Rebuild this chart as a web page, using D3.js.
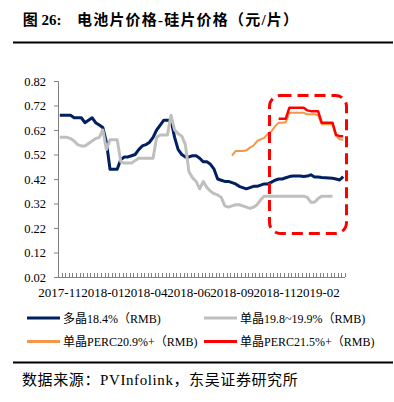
<!DOCTYPE html>
<html>
<head>
<meta charset="utf-8">
<script src="https://cdn.jsdelivr.net/npm/d3@7"></script>
<style>
  html, body { margin: 0; padding: 0; background: #fff; }
  svg { display: block; }
  text { font-family: "Liberation Serif", "Noto Sans CJK SC", serif; }
</style>
</head>
<body>
<svg id="chart" width="394" height="402"></svg>
<script>
// ---------- data ----------
const xTickLabels = ["2017-11", "2018-01", "2018-04", "2018-06", "2018-09", "2018-11", "2019-02"];
const labelEvery = 12;
const nPoints = 80;
const yTicks = [0.02, 0.12, 0.22, 0.32, 0.42, 0.52, 0.62, 0.72, 0.82];

const multi184 = [0.68,0.68,0.68,0.68,0.67,0.67,0.67,0.65,0.66,0.67,
  0.65,0.64,0.63,0.57,0.46,0.46,0.46,0.50,0.51,0.51,
  0.515,0.52,0.54,0.555,0.56,0.57,0.59,0.62,0.64,0.66,
  0.66,0.66,0.59,0.54,0.52,0.51,0.51,0.515,0.515,0.505,
  0.49,0.49,0.48,0.46,0.42,0.415,0.41,0.41,0.405,0.40,
  0.39,0.385,0.38,0.385,0.39,0.39,0.395,0.40,0.40,0.407,
  0.415,0.42,0.42,0.425,0.43,0.432,0.432,0.432,0.43,0.432,
  0.437,0.428,0.428,0.426,0.425,0.424,0.423,0.42,0.416,0.43];

const mono198 = [0.59,0.59,0.59,0.585,0.575,0.56,0.555,0.555,0.565,0.575,
  0.585,0.59,0.62,0.54,0.58,0.58,0.58,0.49,0.485,0.485,
  0.485,0.495,0.505,0.505,0.505,0.505,0.505,0.59,0.60,0.60,
  0.60,0.68,0.62,0.605,0.595,0.56,0.45,0.425,0.41,0.38,
  0.41,0.385,0.37,0.36,0.355,0.345,0.31,0.305,0.31,0.315,
  0.315,0.31,0.305,0.30,0.305,0.315,0.335,0.35,0.35,0.35,
  0.35,0.35,0.35,0.35,0.35,0.35,0.35,0.35,0.35,0.345,
  0.325,0.325,0.34,0.35,0.35,0.35,0.35,null,null,null];

const perc209 = [null,null,null,null,null,null,null,null,null,null,
  null,null,null,null,null,null,null,null,null,null,
  null,null,null,null,null,null,null,null,null,null,
  null,null,null,null,null,null,null,null,null,null,
  null,null,null,null,null,null,null,null,0.515,0.534,
  0.534,0.534,0.537,0.548,0.556,0.575,0.582,0.588,0.605,0.615,
  0.635,0.65,0.65,0.652,0.69,0.69,0.69,0.69,0.69,0.684,
  0.684,0.684,0.68,0.643,0.643,0.643,0.643,0.595,0.582,0.58];

const perc215 = [null,null,null,null,null,null,null,null,null,null,
  null,null,null,null,null,null,null,null,null,null,
  null,null,null,null,null,null,null,null,null,null,
  null,null,null,null,null,null,null,null,null,null,
  null,null,null,null,null,null,null,null,null,null,
  null,null,null,null,null,null,null,null,null,null,
  null,0.666,0.666,0.666,0.711,0.711,0.711,0.711,0.711,0.70,
  0.697,0.697,0.697,0.65,0.65,0.65,0.65,0.60,0.595,0.595];

const seriesNames = ["多晶18.4%（RMB)", "单晶19.8~19.9%（RMB)", "单晶PERC20.9%+（RMB)", "单晶PERC21.5%+（RMB)"];
const seriesColors = ["#002060", "#BFBFBF", "#F79646", "#FF0000"];
const seriesWidths = [3, 3, 2, 2.5];
const seriesData = [multi184, mono198, perc209, perc215];

// ---------- layout ----------
const svg = d3.select("#chart");
const plot = { left: 58, right: 345, top: 81, bottom: 277 };
const categories = d3.range(nPoints);

const x = d3.scaleBand().domain(categories).range([plot.left, plot.right]).paddingInner(0).paddingOuter(0);
const xc = i => x(i) + x.bandwidth() / 2;
const y = d3.scaleLinear().domain([0.02, 0.82]).range([plot.bottom, plot.top]);

// title
svg.append("text").attr("x", 22.7).attr("y", 25).attr("font-size", 15).attr("font-weight", "bold")
  .attr("fill", "#000").text("图 26:");
svg.append("text").attr("x", 77).attr("y", 25).attr("font-size", 15).attr("font-weight", "bold")
  .attr("letter-spacing", 1.2).attr("fill", "#000").text("电池片价格-硅片价格（元/片）");
svg.append("line").attr("x1", 13).attr("x2", 393).attr("y1", 42.5).attr("y2", 42.5)
  .attr("stroke", "#000").attr("stroke-width", 2);

// y axis
const yAxis = d3.axisLeft(y).tickValues(yTicks).tickFormat(d3.format(".2f")).tickSize(4).tickPadding(8);
const gy = svg.append("g").attr("transform", `translate(${plot.left},0)`).call(yAxis);
gy.select(".domain").attr("stroke", "#808080").attr("stroke-width", 1);
gy.selectAll(".tick line").attr("stroke", "#808080");
gy.selectAll(".tick text").attr("font-size", 12.5).attr("fill", "#000")
  .attr("font-family", "Liberation Serif, serif");

// x axis: ticks at category boundaries, pointing up
const boundaries = d3.range(nPoints + 1).map(i => plot.left + i * x.step());
const gx = svg.append("g");
gx.append("line").attr("x1", plot.left).attr("x2", plot.right).attr("y1", plot.bottom + 0.5).attr("y2", plot.bottom + 0.5)
  .attr("stroke", "#808080");
gx.selectAll("line.tk").data(boundaries).join("line").attr("class", "tk")
  .attr("x1", d => Math.round(d) + 0.5).attr("x2", d => Math.round(d) + 0.5)
  .attr("y1", plot.bottom).attr("y2", plot.bottom - 4).attr("stroke", "#808080");
gx.selectAll("text").data(xTickLabels).join("text")
  .attr("x", (d, i) => xc(i * labelEvery)).attr("y", 297).attr("text-anchor", "middle")
  .attr("font-size", 13).attr("fill", "#000").text(d => d);

// lines
const line = d3.line().defined(d => d != null).x((d, i) => xc(i)).y(d => y(d));
seriesData.forEach((arr, k) => {
  svg.append("path").datum(arr).attr("d", line).attr("fill", "none")
    .attr("stroke", seriesColors[k]).attr("stroke-width", seriesWidths[k])
    .attr("stroke-linejoin", "round");
});

// dashed highlight box
svg.append("rect").attr("x", 269.5).attr("y", 95.5).attr("width", 77).attr("height", 138)
  .attr("rx", 11).attr("ry", 11).attr("fill", "none").attr("stroke", "#FF0000")
  .attr("stroke-width", 3).attr("stroke-dasharray", "11,6");

// legend
const legPos = [[27, 318], [204, 318], [27, 341.5], [204, 341.5]];
seriesNames.forEach((name, k) => {
  const [lx, ly] = legPos[k];
  svg.append("line").attr("x1", lx).attr("x2", lx + 33).attr("y1", ly).attr("y2", ly)
    .attr("stroke", seriesColors[k]).attr("stroke-width", 3);
  svg.append("text").attr("x", lx + 36).attr("y", ly + 4.5).attr("font-size", 12).attr("fill", "#000").text(name);
});

// bottom rule and source
svg.append("line").attr("x1", 13).attr("x2", 393).attr("y1", 362.5).attr("y2", 362.5)
  .attr("stroke", "#000").attr("stroke-width", 2);
svg.append("text").attr("x", 22).attr("y", 385).attr("font-size", 15).attr("letter-spacing", 0.6)
  .attr("fill", "#000").text("数据来源：PVInfolink，东吴证券研究所");
</script>
</body>
</html>
